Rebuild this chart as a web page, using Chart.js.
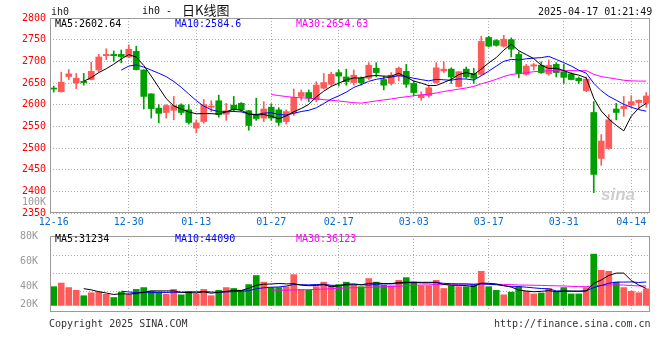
<!DOCTYPE html>
<html><head><meta charset="utf-8">
<script src="https://cdn.jsdelivr.net/npm/chart.js@4.4.1/dist/chart.umd.min.js"></script>
<style>
html,body{margin:0;padding:0;background:#fff;}
#wrap{position:relative;width:660px;height:360px;overflow:hidden;font-family:"DejaVu Sans Mono",monospace;font-size:10px;}
.t{position:absolute;white-space:nowrap;line-height:12px;}
canvas{position:absolute;left:0;}
</style></head><body>
<div id="wrap">
<canvas id="pc" width="660" height="229" style="top:0px"></canvas>
<canvas id="vc" width="660" height="96" style="top:226px"></canvas>
<div class="t" style="left:51px;top:6px;color:#222">ih0</div>
<div class="t" style="left:142px;top:5px;color:#111">ih0 -</div>
<div class="t" style="left:182px;top:2px;line-height:16px;font-family:'Noto Sans CJK SC';font-size:13px;color:#111">日K线图</div>
<div class="t" id="stamp" style="left:538px;top:6px;color:#111"></div>
<div class="t" id="pma5" style="left:55px;top:18px;color:#000"></div>
<div class="t" id="pma10" style="left:175px;top:18px;color:#0000ff"></div>
<div class="t" id="pma30" style="left:296px;top:18px;color:#ff00ff"></div>
<div class="t" id="vma5t" style="left:55px;top:233px;color:#000"></div>
<div class="t" id="vma10t" style="left:175px;top:233px;color:#0000ff"></div>
<div class="t" id="vma30t" style="left:296px;top:233px;color:#ff00ff"></div>
<div class="t" style="left:601px;top:186px;font-family:'Liberation Sans';font-weight:bold;font-style:italic;font-size:17px;line-height:18px;color:#cfcfcf">sina</div>
<div class="t" style="left:49px;top:318px;color:#333">Copyright 2025 SINA.COM</div>
<div class="t" style="left:494px;top:318px;color:#333">http://finance.sina.com.cn</div>
</div>
<script>
// ---- data ----
const dates = ['12-16','12-17','12-18','12-19','12-20','12-23','12-24','12-25','12-26','12-27','12-30','12-31',
 '01-02','01-03','01-06','01-07','01-08','01-09','01-10','01-13','01-14','01-15','01-16','01-17','01-20','01-21','01-22','01-23','01-24','01-27',
 '02-05','02-06','02-07','02-10','02-11','02-12','02-13','02-14','02-17','02-18','02-19','02-20','02-21','02-24','02-25','02-26','02-27','02-28',
 '03-03','03-04','03-05','03-06','03-07','03-10','03-11','03-12','03-13','03-14','03-17','03-18','03-19','03-20','03-21','03-24','03-25','03-26','03-27','03-28','03-31',
 '04-01','04-02','04-03','04-07','04-08','04-09','04-10','04-11','04-14','04-15','04-16'];
const open  = [2637,2630,2665,2650,2654,2658,2680,2713,2716,2716,2710,2723,2680,2625,2592,2582,2587,2599,2588,2546,
               2561,2594,2609,2578,2599,2603,2586,2576,2569,2594,2588,2561,2581,2619,2628,2611,2638,2647,2674,2664,
               2651,2661,2661,2684,2658,2649,2666,2677,2649,2616,2621,2651,2678,2682,2642,2682,2672,2670,2755,2748,
               2735,2750,2716,2670,2689,2691,2671,2693,2676,2671,2661,2632,2582,2476,2499,2590,2591,2599,2605,2603];
const high  = [2643,2675,2681,2672,2672,2698,2716,2729,2724,2726,2738,2735,2681,2625,2600,2600,2619,2602,2600,2565,
               2612,2609,2622,2603,2619,2605,2587,2615,2607,2602,2593,2588,2636,2634,2634,2653,2672,2675,2680,2682,
               2680,2664,2697,2697,2666,2674,2687,2693,2655,2630,2645,2697,2699,2685,2676,2687,2684,2758,2758,2750,
               2760,2754,2722,2693,2695,2699,2703,2697,2693,2674,2664,2664,2607,2531,2577,2603,2619,2621,2611,2628];
const low   = [2629,2629,2658,2637,2645,2657,2676,2704,2700,2697,2708,2680,2590,2569,2558,2569,2565,2577,2555,2535,
               2557,2584,2571,2564,2584,2584,2541,2564,2561,2564,2552,2555,2575,2610,2607,2607,2636,2643,2643,2645,
               2645,2645,2658,2664,2634,2645,2655,2640,2621,2610,2617,2649,2674,2649,2641,2661,2649,2668,2733,2735,
               2733,2710,2662,2668,2680,2672,2668,2664,2649,2657,2649,2630,2397,2460,2497,2565,2573,2594,2590,2594];
const close = [2636,2652,2671,2661,2651,2677,2710,2716,2713,2711,2728,2681,2619,2591,2580,2598,2598,2582,2559,2558,
               2600,2597,2577,2586,2588,2588,2552,2568,2590,2569,2559,2584,2616,2628,2616,2645,2651,2670,2666,2653,
               2668,2651,2691,2674,2645,2668,2684,2647,2628,2622,2639,2685,2682,2664,2676,2664,2661,2746,2735,2737,
               2751,2728,2672,2689,2692,2674,2691,2674,2663,2658,2655,2659,2439,2516,2565,2582,2596,2607,2610,2620];
const volume = [35200,42000,33500,28400,18200,23800,25000,20900,14800,25000,
                20900,30100,33500,26700,25000,20900,30100,19900,25000,21600,
                30100,18200,28400,33500,31800,28400,39100,56100,43700,33500,
                33500,35200,57800,30100,28400,35200,43700,37400,39100,43700,
                37900,35200,50500,43700,37900,36900,47100,52200,43700,36900,
                36900,47100,31800,36900,35200,35200,37900,64100,35200,28400,
                19900,25000,35200,26700,21600,23300,31800,25000,33500,21600,
                21600,33500,96400,65800,64100,43700,33500,26700,23800,31100];
const xTickDates = ['12-16','12-30','01-13','01-27','02-17','03-03','03-17','03-31','04-14'];
const priceTicks = [2350,2400,2450,2500,2550,2600,2650,2700,2750,2800];
const strayTick = {value:2375, label:'100K'};
const volTickLabels = ['20K','40K','60K','80K'];
const priceMaText = ['MA5:2602.64','MA10:2584.6','MA30:2654.63'];
const volMaText = ['MA5:31234','MA10:44090','MA30:36123'];
const stamp = '2025-04-17 01:21:49';

// ---- derived ----
function ma(arr, n){ return arr.map((v,i)=>{ if(i<n-1) return null; let s=0; for(let k=i-n+1;k<=i;k++) s+=arr[k]; return s/n; }); }
const RED='#ff5a5a', GREEN='#009f00';
const colors = close.map((c,i)=> c>=open[i] ? RED : GREEN);
document.getElementById('stamp').textContent = stamp;
['pma5','pma10','pma30'].forEach((id,i)=>document.getElementById(id).textContent=priceMaText[i]);
['vma5t','vma10t','vma30t'].forEach((id,i)=>document.getElementById(id).textContent=volMaText[i]);

const FONT = {family:'DejaVu Sans Mono', size:10};
const GRID = '#aaaaaa';
const gridX = ctx => (ctx.index>0 && xTickDates.includes(dates[ctx.index])) ? GRID : 'rgba(0,0,0,0)';
const frame = {id:'frame', afterDraw(chart){
  const {ctx, chartArea:a} = chart;
  ctx.save(); ctx.strokeStyle='#9a9a9a'; ctx.lineWidth=1;
  ctx.strokeRect(Math.round(a.left)+0.5, Math.round(a.top)+0.5, Math.round(a.right-a.left)-1, Math.round(a.bottom-a.top)-1);
  ctx.restore();
}};
const lineDs = (d,c)=>({type:'line', data:d, borderColor:c, borderWidth:1, pointRadius:0, tension:0, spanGaps:false, order:0});

new Chart(document.getElementById('pc'), {
  type:'bar',
  data:{labels:dates, datasets:[
    lineDs(ma(close,5),'#000000'),
    lineDs(ma(close,10),'#0000ff'),
    lineDs(ma(close,30),'#ff00ff'),
    {data:open.map((o,i)=>[o,close[i]]), backgroundColor:colors, barThickness:6, minBarLength:1, grouped:false, order:1},
    {data:low.map((l,i)=>[l,high[i]]), backgroundColor:colors, barThickness:1, grouped:false, order:2}
  ]},
  options:{
    responsive:false, animation:false, devicePixelRatio:1,
    layout:{padding:{top:18,right:10,left:0,bottom:0}},
    plugins:{legend:{display:false}, tooltip:{enabled:false}},
    scales:{
      x:{ticks:{autoSkip:false, maxRotation:0, minRotation:0, font:FONT, color:'#0a6ccf', padding:3,
             callback:(v,i)=> xTickDates.includes(dates[i]) ? dates[i] : ''},
         grid:{offset:false, drawTicks:false, color:gridX}, border:{display:false, dash:[1,2]},
         afterFit:s=>{s.height=16;}},
      y:{position:'left', min:2350, max:2800,
         afterBuildTicks:s=>{ s.ticks = priceTicks.concat([strayTick.value]).sort((a,b)=>a-b).map(v=>({value:v})); },
         ticks:{font:FONT, padding:4, color:ctx=> (ctx.tick && ctx.tick.value===strayTick.value) ? '#999999' : '#ff0000',
                callback:v=> v===strayTick.value ? strayTick.label : String(v)},
         grid:{drawTicks:false, color:ctx=> (ctx.tick && ctx.tick.value===strayTick.value) ? 'rgba(0,0,0,0)' : GRID},
         border:{display:false, dash:[1,2]},
         afterFit:s=>{s.width=50;}}
    }
  },
  plugins:[frame]
});

new Chart(document.getElementById('vc'), {
  type:'bar',
  data:{labels:dates, datasets:[
    lineDs(ma(volume,5),'#000000'),
    lineDs(ma(volume,10),'#0000ff'),
    lineDs(ma(volume,30),'#ff00ff'),
    {data:volume, backgroundColor:colors, barThickness:6, order:1, yAxisID:'y'}
  ]},
  options:{
    responsive:false, animation:false, devicePixelRatio:1,
    layout:{padding:{top:8,right:10,left:0,bottom:4}},
    plugins:{legend:{display:false}, tooltip:{enabled:false}},
    scales:{
      x:{ticks:{display:false}, grid:{offset:false, drawTicks:false, color:gridX}, border:{display:false, dash:[1,2]},
         afterFit:s=>{s.height=0;}},
      y:{position:'left', min:-12400, max:130400,
         afterBuildTicks:s=>{ s.ticks=[25500,59500,93500].map(v=>({value:v})); },
         ticks:{display:false}, grid:{drawTicks:false, color:GRID}, border:{display:false, dash:[1,2]},
         afterFit:s=>{s.width=0;}},
      yl:{position:'left', min:0, max:84,
         afterBuildTicks:s=>{ s.ticks=[8,28,56,84].map(v=>({value:v})); },
         ticks:{font:FONT, color:'#999999', padding:4, callback:(v,i)=>volTickLabels[i]},
         grid:{display:false}, border:{display:false},
         afterFit:s=>{s.width=50;}}
    }
  },
  plugins:[frame]
});
</script>
</body></html>
